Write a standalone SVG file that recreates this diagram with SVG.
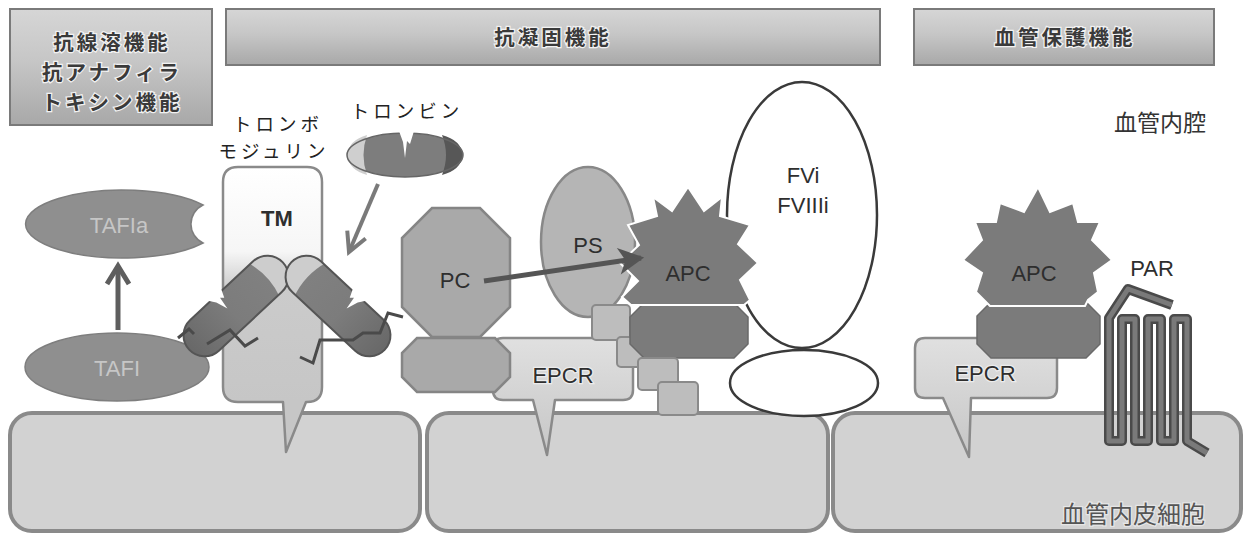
<svg xmlns="http://www.w3.org/2000/svg" width="1252" height="534" viewBox="0 0 1252 534">
  <defs>
    <style>
      .hdr{fill:url(#hdrGrad);stroke:#7a7a7a;stroke-width:2}
      .jp{font-family:"Noto Sans CJK JP","Noto Sans CJK SC",sans-serif;text-anchor:middle}
      .hdrtxt{font-size:20.5px;font-weight:bold;letter-spacing:3px;fill:#3a3a3a;stroke:#f2f2f2;stroke-width:2.5;paint-order:stroke}
      .name{font-size:18.5px;letter-spacing:4px;fill:#222222}
      .lbl{font-family:"Liberation Sans",Arial,sans-serif;font-size:22px;text-anchor:middle;fill:#2e2e2e}
      .halo{stroke:#ececec;stroke-width:2.5;paint-order:stroke}
      .cell{fill:#d2d2d2;stroke:#8a8a8a;stroke-width:4}
      .callout{fill:url(#calloutGrad);stroke:#8a8a8a;stroke-width:2.5;stroke-linejoin:round}
      .mid{fill:#a9a9a9;stroke:#858585;stroke-width:2.5}
      .dark{fill:#7b7b7b;stroke:#6a6a6a;stroke-width:1.5}
      .apc{fill:#7b7b7b;stroke:#ffffff;stroke-width:2;stroke-linejoin:miter}
      .gla{fill:#bdbdbd;stroke:#8a8a8a;stroke-width:2}
      .taf{fill:#8f8f8f;stroke:#7e7e7e;stroke-width:1.5}
      .taftxt{fill:#c6c6c6}
      .outline{fill:#ffffff;stroke:#3a3a3a;stroke-width:2.5}
      .zig{fill:none;stroke:#4a4a4a;stroke-width:3;stroke-linejoin:miter}
      .par-out{fill:none;stroke:#4a4a4a;stroke-width:10;stroke-linejoin:round;stroke-linecap:butt}
      .par-in{fill:none;stroke:#7a7a7a;stroke-width:5;stroke-linejoin:round;stroke-linecap:butt}
    </style>
    <linearGradient id="hdrGrad" x1="0" y1="0" x2="0" y2="1">
      <stop offset="0" stop-color="#d6d6d6"/>
      <stop offset="0.45" stop-color="#c6c6c6"/>
      <stop offset="1" stop-color="#a8a8a8"/>
    </linearGradient>
    <linearGradient id="calloutGrad" x1="0" y1="0" x2="0" y2="1">
      <stop offset="0" stop-color="#e0e0e0"/>
      <stop offset="1" stop-color="#c6c6c6"/>
    </linearGradient>
    <linearGradient id="tmGrad" gradientUnits="userSpaceOnUse" x1="0" y1="167" x2="0" y2="402">
      <stop offset="0" stop-color="#ffffff"/>
      <stop offset="0.36" stop-color="#f6f6f6"/>
      <stop offset="0.52" stop-color="#cbcbcb"/>
      <stop offset="1" stop-color="#c6c6c6"/>
    </linearGradient>
    <linearGradient id="thrBody" x1="0" y1="0" x2="1" y2="0">
      <stop offset="0" stop-color="#686868"/>
      <stop offset="0.45" stop-color="#7c7c7c"/>
      <stop offset="1" stop-color="#828282"/>
    </linearGradient>
    <clipPath id="capsuleClip">
      <rect x="-64" y="-21" width="128" height="42" rx="21"/>
    </clipPath>
    <!-- thrombin bound to thrombomodulin, drawn along its own axis -->
    <g id="thrBound">
      <rect x="-64" y="-21" width="128" height="42" rx="21" fill="url(#thrBody)"/>
      <g clip-path="url(#capsuleClip)">
        <path d="M38,-24 Q46,0 38,24 L70,24 L70,-24 Z" fill="#cdcdcd"/>
      </g>
      <rect x="-64" y="-21" width="128" height="42" rx="21" fill="none" stroke="#555555" stroke-width="2"/>
      <polygon points="-17,-23 1,-23 -3,-14 -6,-17 -8,-4 -12,-16" fill="#ffffff"/>
    </g>
    <marker id="headTafi" viewBox="0 0 28 28" refX="23" refY="14" markerWidth="28" markerHeight="28" markerUnits="userSpaceOnUse" orient="auto">
      <path d="M5,3 L23,14 L5,25" fill="none" stroke="#5e5e5e" stroke-width="5"/>
    </marker>
    <marker id="headThr" viewBox="0 0 28 28" refX="23" refY="14" markerWidth="28" markerHeight="28" markerUnits="userSpaceOnUse" orient="auto">
      <path d="M4,4 L23,14 L4,24" fill="none" stroke="#7a7a7a" stroke-width="4"/>
    </marker>
    <marker id="headPc" viewBox="0 0 28 28" refX="24" refY="14" markerWidth="28" markerHeight="28" markerUnits="userSpaceOnUse" orient="auto">
      <path d="M5,4 L24,14 L5,24 L10,14 Z" fill="#555555" stroke="#555555" stroke-width="3" stroke-linejoin="miter"/>
    </marker>
  </defs>

  <rect width="1252" height="534" fill="#ffffff"/>

  <!-- function headers -->
  <g id="hdr-fibrinolysis">
    <rect class="hdr" x="10" y="9" width="202" height="116"/>
    <text class="jp hdrtxt" x="112" y="50">抗線溶機能</text>
    <text class="jp hdrtxt" x="112" y="80">抗アナフィラ</text>
    <text class="jp hdrtxt" x="112" y="110">トキシン機能</text>
  </g>
  <g id="hdr-anticoag">
    <rect class="hdr" x="226" y="9" width="654" height="56"/>
    <text class="jp hdrtxt" x="553" y="45">抗凝固機能</text>
  </g>
  <g id="hdr-vascular">
    <rect class="hdr" x="914" y="9" width="300" height="56"/>
    <text class="jp hdrtxt" x="1065" y="45">血管保護機能</text>
  </g>

  <g id="lumen-label">
    <text class="jp" x="1160" y="131" font-size="23" fill="#333333">血管内腔</text>
  </g>

  <!-- endothelial cells -->
  <g id="cell-1"><rect class="cell" x="10" y="413" width="410" height="118" rx="22"/></g>
  <g id="cell-2"><rect class="cell" x="427" y="413" width="401" height="118" rx="22"/></g>
  <g id="cell-3">
    <rect class="cell" x="833" y="413" width="408" height="118" rx="22"/>
    <text class="jp" x="1133" y="523" font-size="24" fill="#555555" stroke="#e6e6e6" stroke-width="2.5" paint-order="stroke">血管内皮細胞</text>
  </g>

  <!-- TAFI / TAFIa -->
  <g id="tafia">
    <path class="taf" d="M203,205 A97,34 0 1 0 203,243 A21,21 0 0 1 203,205 Z"/>
    <text class="lbl taftxt" x="119" y="233">TAFIa</text>
  </g>
  <g id="tafi">
    <ellipse class="taf" cx="117" cy="367" rx="92" ry="34"/>
    <text class="lbl taftxt" x="117" y="376">TAFI</text>
  </g>

  <!-- thrombomodulin -->
  <g id="tm">
    <text class="jp name" x="278" y="131">トロンボ</text>
    <text class="jp name" x="274" y="158">モジュリン</text>
    <path d="M238,167 H307 Q322,167 322,182 V387 Q322,402 307,402 H306 L286,452 L283,402 H238 Q223,402 223,387 V182 Q223,167 238,167 Z" fill="url(#tmGrad)" stroke="#8a8a8a" stroke-width="2.5" stroke-linejoin="round"/>
    <text class="lbl" x="277" y="226" font-weight="bold" fill="#222222">TM</text>
  </g>

  <!-- thrombin, free -->
  <g id="thrombin-free">
    <text class="jp name" x="407" y="118">トロンビン</text>
    <ellipse cx="405" cy="155" rx="58" ry="22" fill="#7d7d7d"/>
    <path d="M367,135 Q360,155 367,175 Q349,170 347,155 Q349,140 367,135 Z" fill="#cfcfcf"/>
    <path d="M442,135 Q450,155 442,175 Q461,170 463,155 Q461,140 442,135 Z" fill="#575757"/>
    <ellipse cx="405" cy="155" rx="58" ry="22" fill="none" stroke="#666666" stroke-width="1.5"/>
    <polygon points="399,131 414,131 410,144 407,141 405,158 403,142" fill="#ffffff"/>
  </g>

  <!-- thrombin bound to TM -->
  <g id="thrombin-bound-left">
    <use href="#thrBound" transform="translate(236,306) rotate(-43)"/>
    <polyline class="zig" points="178,338 189,329 194,334"/>
    <polyline class="zig" points="207,344 230,330 245,346 258,338"/>
  </g>
  <g id="thrombin-bound-right">
    <use href="#thrBound" transform="translate(338,306) scale(-1,1) rotate(-43)"/>
    <polyline class="zig" points="300,357 313,363 320,340 353,340 363,333 380,333 388,313 403,317"/>
  </g>

  <!-- EPCR (anticoagulant) -->
  <g id="epcr-mid">
    <path class="callout" d="M503,338 H623 Q633,338 633,348 V390 Q633,400 623,400 H555 L547,455 L533,400 H503 Q493,400 493,390 V348 Q493,338 503,338 Z"/>
    <text class="lbl halo" x="563" y="383">EPCR</text>
  </g>

  <!-- protein C -->
  <g id="pc">
    <polygon class="mid" points="417,338 495,338 510,353 510,377 495,392 417,392 402,377 402,353" fill="#a2a2a2"/>
    <polygon class="mid" points="432,208 480,208 510,238 510,307 480,337 432,337 402,307 402,238"/>
    <text class="lbl" x="455" y="288">PC</text>
  </g>

  <!-- protein S -->
  <g id="ps">
    <ellipse cx="588" cy="242" rx="47" ry="75" fill="#b5b5b5" stroke="#888888" stroke-width="2.5"/>
    <text class="lbl" x="588" y="253">PS</text>
  </g>

  <g id="gla-1"><rect class="gla" x="592" y="305" width="38" height="35" rx="4"/></g>
  <g id="gla-2"><rect class="gla" x="617" y="337" width="28" height="30" rx="4"/></g>

  <!-- inactivated factors -->
  <g id="fvi">
    <ellipse class="outline" cx="802" cy="215" rx="75" ry="133"/>
    <text class="lbl" x="803" y="183" fill="#333333">FVi</text>
    <text class="lbl" x="803" y="213" fill="#333333">FVIIIi</text>
  </g>
  <g id="fvi-base">
    <ellipse class="outline" cx="804" cy="383" rx="74" ry="33"/>
  </g>

  <!-- activated protein C -->
  <g id="apc-mid">
    <polygon class="dark" points="644,303 734,303 748,317 748,344 734,358 644,358 630,344 630,317"/>
    <polygon class="apc" points="631,305 622,297 638,281 620,263 639,245 628,225 657,216 653,197 672,211 688,187 704,211 722,197 720,216 750,225 738,244 758,263 740,280 750,300 744,305"/>
    <text class="lbl" x="688" y="281" fill="#e2e2e2">APC</text>
  </g>

  <g id="gla-3"><rect class="gla" x="638" y="358" width="40" height="32" rx="4"/></g>
  <g id="gla-4"><rect class="gla" x="658" y="382" width="40" height="33" rx="4"/></g>

  <!-- vascular protection side -->
  <g id="epcr-right">
    <path class="callout" d="M925,338 H1047 Q1057,338 1057,348 V388 Q1057,398 1047,398 H971 L969,457 L943,398 H925 Q915,398 915,388 V348 Q915,338 925,338 Z"/>
    <text class="lbl halo" x="985" y="381">EPCR</text>
  </g>
  <g id="apc-right">
    <polygon class="dark" points="991,302 1086,302 1100,316 1100,344 1086,358 991,358 977,344 977,316"/>
    <polygon class="apc" points="1038,187 1050,212 1073,203 1078,222 1100,222 1092,240 1112,260 1094,273 1098,292 1088,300 1085,306 990,306 984,300 976,292 982,273 963,260 982,240 975,222 996,222 1000,203 1024,212"/>
    <text class="lbl" x="1034" y="281" fill="#e2e2e2">APC</text>
  </g>
  <g id="par">
    <path class="par-out" d="M1172,305 L1128,289 L1109,318 V441 H1122 V319 H1135 V441 H1148 V319 H1161 V441 H1174 V319 H1187 V441 L1207,453"/>
    <path class="par-in" d="M1172,305 L1128,289 L1109,318 V441 H1122 V319 H1135 V441 H1148 V319 H1161 V441 H1174 V319 H1187 V441 L1207,453"/>
    <text class="lbl" x="1152" y="276" font-size="23">PAR</text>
  </g>

  <!-- connectors -->
  <g id="connectors">
    <line x1="118" y1="330" x2="118" y2="266" stroke="#5e5e5e" stroke-width="5" marker-end="url(#headTafi)"/>
    <line x1="378" y1="184" x2="349" y2="252" stroke="#7a7a7a" stroke-width="4" marker-end="url(#headThr)"/>
    <line x1="484" y1="281" x2="641" y2="258" stroke="#555555" stroke-width="5" marker-end="url(#headPc)"/>
  </g>
</svg>
